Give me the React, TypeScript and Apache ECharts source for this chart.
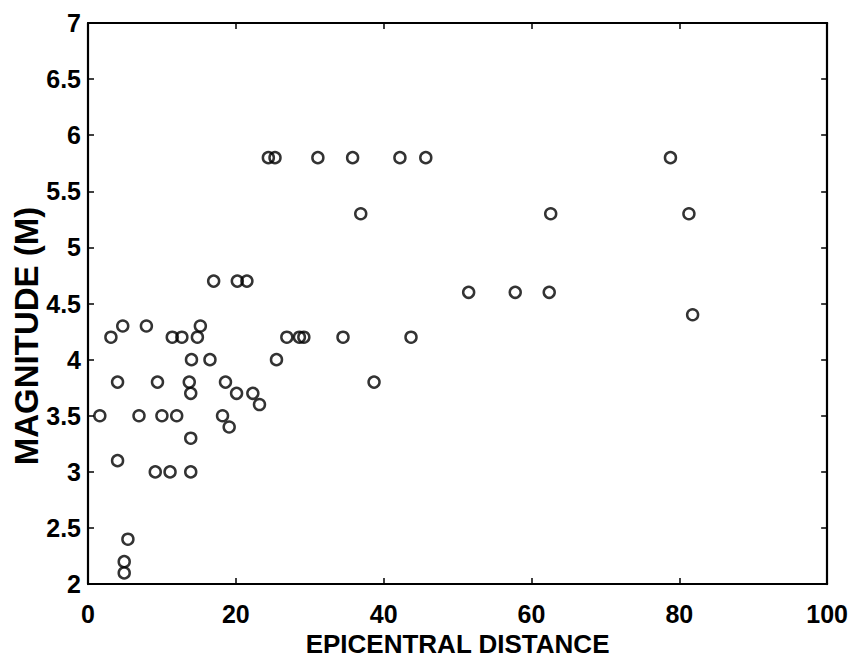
import React, { useEffect, useRef } from "react";
import * as echarts from "echarts";

const distances: number[] = [
  1.6, 3.1, 4.7, 4.0, 4.0, 5.4, 4.9, 4.9, 7.9, 6.9,
  9.4, 9.1, 10.0, 11.1, 11.4, 12.0, 12.7, 13.7, 13.9, 14.0,
  13.9, 13.9, 14.8, 15.2, 16.5, 18.2, 19.1, 18.6, 20.1, 22.3,
  23.2, 25.5, 24.4, 25.3, 31.1, 35.8, 42.2, 45.7, 36.9, 17.0,
  20.2, 21.5, 26.9, 28.6, 29.2, 34.5, 43.7, 38.7, 78.8, 62.6,
  81.3, 51.5, 57.8, 62.4, 81.8,
];

const magnitudes: number[] = [
  3.5, 4.2, 4.3, 3.8, 3.1, 2.4, 2.2, 2.1, 4.3, 3.5,
  3.8, 3.0, 3.5, 3.0, 4.2, 3.5, 4.2, 3.8, 3.7, 4.0,
  3.3, 3.0, 4.2, 4.3, 4.0, 3.5, 3.4, 3.8, 3.7, 3.7,
  3.6, 4.0, 5.8, 5.8, 5.8, 5.8, 5.8, 5.8, 5.3, 4.7,
  4.7, 4.7, 4.2, 4.2, 4.2, 4.2, 4.2, 3.8, 5.8, 5.3,
  5.3, 4.6, 4.6, 4.6, 4.4,
];

const xTitle = "EPICENTRAL DISTANCE";
const yTitle = "MAGNITUDE (M)";

const FONT = "'Liberation Sans', Arial, Helvetica, sans-serif";

export default function App() {
  const ref = useRef<HTMLDivElement>(null);

  useEffect(() => {
    if (!ref.current) return;
    const chart = echarts.init(ref.current, undefined, { renderer: "svg" });
    const points = distances.map((d, i) => [d, magnitudes[i]]);

    const lineStyle = { color: "#000", width: 2.2 };
    const tick = { show: true, inside: true, length: 6, lineStyle: { color: "#000", width: 1.5 } };
    const labelStyle = { fontFamily: FONT, fontSize: 25, fontWeight: "bold", color: "#000" };

    chart.setOption({
      animation: false,
      backgroundColor: "#fff",
      grid: { left: 88, right: 23, top: 23, bottom: 66, containLabel: false },
      xAxis: [
        {
          type: "value",
          min: 0,
          max: 100,
          interval: 20,
          position: "bottom",
          name: xTitle,
          nameLocation: "middle",
          nameGap: 43,
          nameTextStyle: { fontFamily: FONT, fontSize: 26, fontWeight: "bold", color: "#000" },
          axisLine: { show: true, onZero: false, lineStyle },
          axisTick: tick,
          axisLabel: { ...labelStyle, margin: 17 },
          splitLine: { show: false },
        },
        {
          type: "value",
          min: 0,
          max: 100,
          interval: 20,
          position: "top",
          axisLine: { show: true, onZero: false, lineStyle },
          axisTick: tick,
          axisLabel: { show: false },
          splitLine: { show: false },
        },
      ],
      yAxis: [
        {
          type: "value",
          min: 2,
          max: 7,
          interval: 0.5,
          position: "left",
          axisLine: { show: true, onZero: false, lineStyle },
          axisTick: tick,
          axisLabel: { ...labelStyle, margin: 7 },
          splitLine: { show: false },
        },
        {
          type: "value",
          min: 2,
          max: 7,
          interval: 0.5,
          position: "right",
          axisLine: { show: true, onZero: false, lineStyle },
          axisTick: tick,
          axisLabel: { show: false },
          splitLine: { show: false },
        },
      ],
      graphic: [
        {
          type: "text",
          x: 26,
          y: 336,
          rotation: Math.PI / 2,
          style: {
            text: yTitle,
            fontFamily: FONT,
            fontSize: 33,
            fontWeight: "bold",
            fill: "#000",
            align: "center",
            verticalAlign: "middle",
          },
        },
      ],
      series: [
        {
          type: "scatter",
          xAxisIndex: 0,
          yAxisIndex: 0,
          data: points,
          symbol: "circle",
          symbolSize: 11,
          itemStyle: { color: "rgba(0,0,0,0)", borderColor: "#000", borderWidth: 2.5 },
          emphasis: { disabled: true },
        },
      ],
    });

    return () => chart.dispose();
  }, []);

  return (
    <div
      ref={ref}
      style={{ position: "fixed", left: 0, top: 0, width: 851, height: 662, background: "#fff" }}
    />
  );
}
